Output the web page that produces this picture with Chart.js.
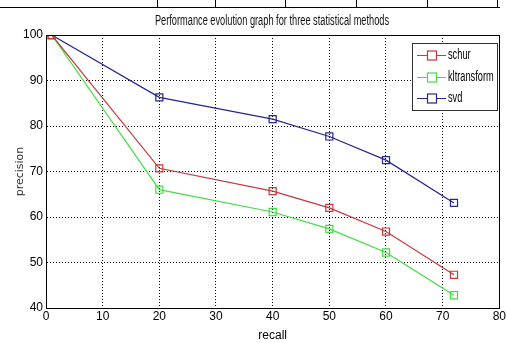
<!DOCTYPE html>
<html>
<head>
<meta charset="utf-8">
<script src="https://cdn.jsdelivr.net/npm/chart.js@4"></script>
<style>
  html, body { margin: 0; padding: 0; background: #fff; }
  #wrap { position: relative; width: 507px; height: 343px; }
  #chart { position: absolute; left: 0; top: 0; }
  .tl { position: absolute; background: #000; }
  #ttl { position: absolute; left: 72px; top: 12px; width: 400px; text-align: center;
         font: 14px 'Liberation Sans', sans-serif; color: #111;
         transform: scaleX(0.66); transform-origin: 200px 0; white-space: nowrap; }
</style>
</head>
<body>
<div id="wrap">
  <canvas id="chart" width="507" height="343"></canvas>
  <!-- bit of table border cut off at the top of the figure -->
  <div class="tl" style="left:0;top:7px;width:500px;height:1px"></div>
  <div class="tl" style="left:157px;top:0;width:1px;height:8px"></div>
  <div class="tl" style="left:215px;top:0;width:1px;height:8px"></div>
  <div class="tl" style="left:285px;top:0;width:1px;height:8px"></div>
  <div class="tl" style="left:356px;top:0;width:1px;height:8px"></div>
  <div class="tl" style="left:427px;top:0;width:1px;height:8px"></div>
  <div class="tl" style="left:497px;top:0;width:1px;height:8px"></div>
  <div id="ttl">Performance evolution graph for three statistical methods</div>
</div>
<script>
const recall = [1, 20, 40, 50, 60, 72];
const schur = [100, 70.7, 65.7, 62.0, 56.8, 47.3];
const kltransform = [100, 66.0, 61.1, 57.4, 52.2, 42.8];
const svd = [100, 86.3, 81.5, 77.7, 72.5, 63.1];
const seriesNames = ['schur', 'kltransform', 'svd'];
const seriesColors = ['#c8383c', '#44dd44', '#26268e'];
const xTicks = [0, 10, 20, 30, 40, 50, 60, 70, 80];
const yTicks = [40, 50, 60, 70, 80, 90, 100];

const font = "'Liberation Sans', Arial, sans-serif";

function pts(vals) {
    return recall.map((r, i) => ({ x: r, y: vals[i] }));
}

const datasets = [schur, kltransform, svd].map((vals, i) => ({
    label: seriesNames[i],
    data: pts(vals),
    borderColor: seriesColors[i],
    backgroundColor: 'rgba(0,0,0,0)',
    borderWidth: 1.2,
    pointStyle: 'rect',
    pointRadius: 5,
    pointBorderWidth: 1.2,
    pointBorderColor: seriesColors[i],
    pointBackgroundColor: 'rgba(255,255,255,0)'
}));

// frame around the plot + legend box in the upper right corner
const framePlugin = {
    id: 'frame',
    afterDraw(chart) {
        const ctx = chart.ctx;
        const a = chart.chartArea;
        ctx.save();
        ctx.setLineDash([]);
        ctx.strokeStyle = '#000';
        ctx.lineWidth = 1;
        ctx.strokeRect(Math.round(a.left) + 0.5, Math.round(a.top) + 0.5,
            Math.round(a.right - a.left), Math.round(a.bottom - a.top));

        // legend
        const bx = 412, by = 43, bw = 85, bh = 67;
        ctx.fillStyle = '#fff';
        ctx.fillRect(bx, by, bw, bh);
        ctx.strokeStyle = '#333';
        ctx.strokeRect(bx + 0.5, by + 0.5, bw, bh);
        const rows = [55, 77, 98];
        ctx.font = '14px ' + font;
        ctx.textBaseline = 'middle';
        seriesNames.forEach((name, i) => {
            const y = rows[i] + 0.5;
            ctx.lineWidth = 1.2;
            ctx.strokeStyle = seriesColors[i];
            ctx.beginPath();
            ctx.moveTo(bx + 5, y);
            ctx.lineTo(bx + 15.5, y);
            ctx.moveTo(bx + 24.5, y);
            ctx.lineTo(bx + 34, y);
            ctx.stroke();
            ctx.strokeRect(bx + 15.5, y - 4.5, 9, 9);
            ctx.save();
            ctx.translate(bx + 36, y);
            ctx.scale(0.66, 1);
            ctx.fillStyle = '#000';
            ctx.fillText(name, 0, 0);
            ctx.restore();
        });
        ctx.restore();
    }
};

const tickFont = { family: font, size: 12 };

new Chart(document.getElementById('chart'), {
    type: 'line',
    data: { datasets: datasets },
    options: {
        responsive: false,
        animation: false,
        layout: { padding: { left: 0, right: 5, top: 35, bottom: 0 } },
        plugins: {
            legend: { display: false },
            tooltip: { enabled: false },
            title: { display: false }
        },
        scales: {
            x: {
                type: 'linear',
                min: 0,
                max: 80,
                afterBuildTicks: s => { s.ticks = xTicks.map(v => ({ value: v })); },
                afterFit: s => { s.height = 35; },
                ticks: { color: '#000', font: tickFont, padding: 1, maxRotation: 0 },
                grid: { color: '#000', lineWidth: 1, drawTicks: false },
                border: { display: true, color: '#000', dash: [1, 2] },
                title: { display: true, text: 'recall', color: '#000', font: { family: font, size: 12 }, padding: { top: 0, bottom: 0 } }
            },
            y: {
                min: 40,
                max: 100,
                afterBuildTicks: s => { s.ticks = yTicks.map(v => ({ value: v })); },
                afterFit: s => { s.width = 46; },
                ticks: { color: '#000', font: tickFont, padding: 3 },
                grid: { color: '#000', lineWidth: 1, drawTicks: false },
                border: { display: true, color: '#000', dash: [1, 2] },
                title: { display: true, text: 'precision', color: '#333', font: { family: 'DejaVu Sans', size: 11 }, padding: { top: 14, bottom: 0 } }
            }
        }
    },
    plugins: [framePlugin]
});
</script>
</body>
</html>
